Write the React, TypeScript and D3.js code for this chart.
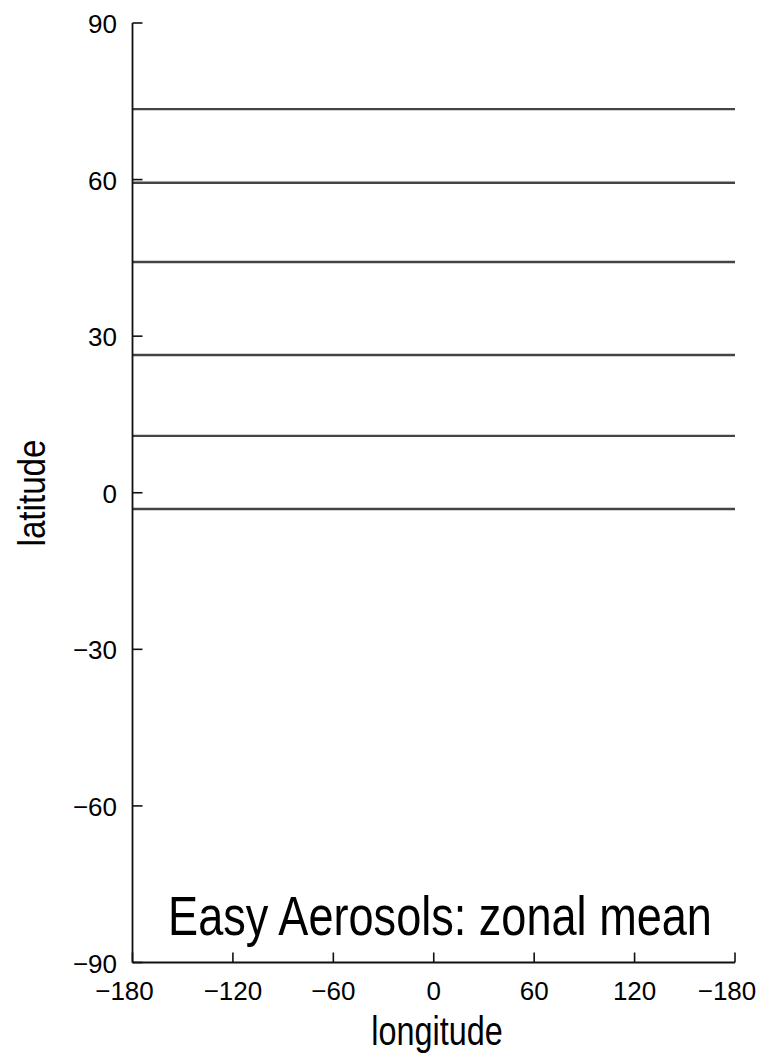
import React from "react";
import * as d3 from "d3";

const zonalLatitudes = [73.5, 59.4, 44.2, 26.4, 10.9, -3.1];
const lonTicks = [-180, -120, -60, 0, 60, 120, 180];
const lonTickLabels = ["−180", "−120", "−60", "0", "60", "120", "−180"];
const latTicks = [90, 60, 30, 0, -30, -60, -90];
const latTickLabels = ["90", "60", "30", "0", "−30", "−60", "−90"];
const titleText = "Easy Aerosols: zonal mean";
const xLabel = "longitude";
const yLabel = "latitude";

const W = 761;
const H = 1056;
const FONT = "'Liberation Sans', Arial, Helvetica, sans-serif";

export default function App() {
  const x = d3.scaleLinear().domain([-180, 180]).range([132.5, 735]);
  const y = d3.scaleLinear().domain([-90, 90]).range([962.5, 23]);
  const line = d3
    .line<[number, number]>()
    .x((d) => x(d[0]))
    .y((d) => y(d[1]));

  return (
    <svg
      width={W}
      height={H}
      style={{ position: "absolute", left: 0, top: 0, background: "#fff" }}
      fontFamily={FONT}
    >
      {zonalLatitudes.map((lat, i) => (
        <path
          key={i}
          d={line([
            [-180, lat],
            [180, lat],
          ]) as string}
          stroke="#444"
          strokeWidth={2.4}
          fill="none"
        />
      ))}

      <line x1={x(-180)} x2={x(-180)} y1={y(90)} y2={y(-90)} stroke="#111" strokeWidth={1.8} />
      <line x1={x(-180)} x2={x(180)} y1={y(-90)} y2={y(-90)} stroke="#111" strokeWidth={1.8} />

      {latTicks.map((t, i) => (
        <g key={"yt" + i}>
          <line x1={x(-180)} x2={x(-180) + 10} y1={y(t)} y2={y(t)} stroke="#111" strokeWidth={1.6} />
          <text x={117} y={y(t) + 10} textAnchor="end" fontSize={26} fill="#000">
            {latTickLabels[i]}
          </text>
        </g>
      ))}

      {lonTicks.map((t, i) => (
        <g key={"xt" + i}>
          <line x1={x(t)} x2={x(t)} y1={y(-90)} y2={y(-90) - 10} stroke="#111" strokeWidth={1.6} />
          <text
            x={x(t) + (i === 0 || i === lonTicks.length - 1 ? -8 : 0)}
            y={1000}
            textAnchor="middle"
            fontSize={26}
            fill="#000"
          >
            {lonTickLabels[i]}
          </text>
        </g>
      ))}

      <text
        transform={`translate(440,935) scale(0.82,1)`}
        textAnchor="middle"
        fontSize={55}
        fill="#000"
      >
        {titleText}
      </text>

      <text
        transform={`translate(437,1045) scale(0.79,1)`}
        textAnchor="middle"
        fontSize={41}
        fill="#000"
      >
        {xLabel}
      </text>
      <text
        transform={`translate(45,493) rotate(-90) scale(0.85,1)`}
        textAnchor="middle"
        fontSize={39}
        fill="#000"
      >
        {yLabel}
      </text>
    </svg>
  );
}
